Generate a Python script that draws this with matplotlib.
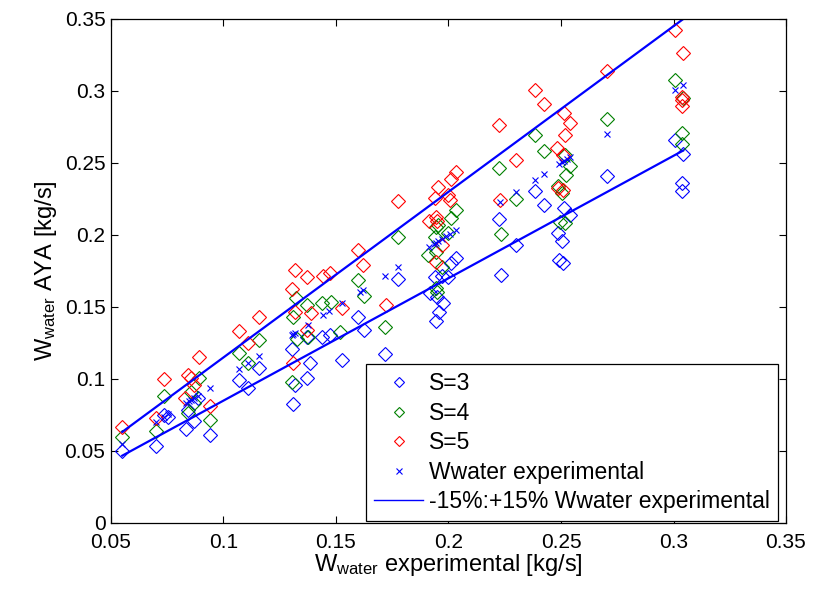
import numpy as np
import matplotlib.pyplot as plt
from matplotlib.ticker import FuncFormatter, MultipleLocator

plt.rcParams['font.family'] = ['Liberation Sans', 'DejaVu Sans']
plt.rcParams['mathtext.fontset'] = 'custom'
plt.rcParams['mathtext.rm'] = 'Liberation Sans'
plt.rcParams['mathtext.it'] = 'Liberation Sans'

# experimental water flow (plotted against itself as crosses)
w_exp = [0.055, 0.070, 0.0737, 0.0755, 0.0835, 0.0845, 0.0855, 0.087, 0.0885, 0.094,
         0.107, 0.111, 0.116, 0.1303, 0.131, 0.1318, 0.1377, 0.1444, 0.147, 0.1525,
         0.1607, 0.162, 0.1718, 0.1777, 0.1915, 0.1935, 0.1945, 0.1955, 0.197, 0.199,
         0.2007, 0.2033, 0.2229, 0.230, 0.2384, 0.2426, 0.249, 0.2505, 0.2515, 0.2525,
         0.254, 0.2703, 0.3007, 0.3043]

# S=3 predictions
s3_x = [0.055, 0.070, 0.0737, 0.0755, 0.0835, 0.087, 0.094, 0.0844, 0.0885, 0.107,
        0.111, 0.116, 0.1303, 0.131, 0.1318, 0.137, 0.1384, 0.137, 0.1436, 0.1473,
        0.1525, 0.160, 0.1626, 0.1718, 0.1777, 0.1918, 0.1947, 0.1944, 0.196, 0.1977,
        0.194, 0.197, 0.200, 0.201, 0.2033, 0.2226, 0.2233, 0.230, 0.2384, 0.2426,
        0.2513, 0.254, 0.2488, 0.2503, 0.2492, 0.251, 0.2703, 0.3007, 0.3043, 0.304, 0.304]
s3_y = [0.0498, 0.0537, 0.075, 0.0735, 0.065, 0.071, 0.061, 0.0785, 0.0866, 0.0995,
        0.0935, 0.1074, 0.1206, 0.0826, 0.0958, 0.129, 0.111, 0.101, 0.1294, 0.1306,
        0.1132, 0.1433, 0.134, 0.1174, 0.1692, 0.1595, 0.157, 0.1405, 0.1467, 0.1526,
        0.171, 0.1715, 0.171, 0.1808, 0.1842, 0.2109, 0.1722, 0.193, 0.2308, 0.2208,
        0.2185, 0.2139, 0.2012, 0.196, 0.1826, 0.1808, 0.241, 0.266, 0.256, 0.2363, 0.2306]

# S=4 predictions
s4_x = [0.055, 0.070, 0.0737, 0.0844, 0.0855, 0.087, 0.0889, 0.094, 0.107, 0.111,
        0.116, 0.1303, 0.1307, 0.1322, 0.1325, 0.137, 0.1377, 0.144, 0.148, 0.152,
        0.160, 0.1626, 0.172, 0.1777, 0.191, 0.1944, 0.194, 0.1944, 0.1955, 0.197,
        0.1944, 0.1947, 0.200, 0.201, 0.2033, 0.2226, 0.2233, 0.230, 0.2384, 0.2426,
        0.2485, 0.2503, 0.2518, 0.254, 0.2522, 0.2496, 0.2518, 0.2703, 0.3007, 0.3043,
        0.304, 0.304]
s4_y = [0.060, 0.0637, 0.0885, 0.0765, 0.0912, 0.0836, 0.1005, 0.0715, 0.118, 0.111,
        0.127, 0.098, 0.1428, 0.156, 0.128, 0.1514, 0.1294, 0.1526, 0.1537, 0.1328,
        0.1688, 0.1576, 0.1359, 0.1988, 0.186, 0.1884, 0.1988, 0.2058, 0.207, 0.1776,
        0.163, 0.1606, 0.2012, 0.2116, 0.2174, 0.2463, 0.2005, 0.2247, 0.2694, 0.2583,
        0.234, 0.229, 0.2556, 0.248, 0.2417, 0.2093, 0.2081, 0.2803, 0.3076, 0.2949,
        0.2706, 0.2632]

# S=5 predictions
s5_x = [0.055, 0.070, 0.0737, 0.0844, 0.0855, 0.083, 0.087, 0.0889, 0.094, 0.107,
        0.111, 0.116, 0.1303, 0.131, 0.1318, 0.1318, 0.137, 0.1388, 0.137, 0.1444,
        0.1473, 0.1525, 0.160, 0.162, 0.1722, 0.1777, 0.1915, 0.1944, 0.1947, 0.194,
        0.1955, 0.200, 0.2007, 0.201, 0.2033, 0.197, 0.1944, 0.2226, 0.2229, 0.230,
        0.2384, 0.2426, 0.2513, 0.254, 0.2519, 0.2484, 0.2507, 0.2488, 0.251, 0.2703,
        0.3007, 0.3043, 0.3036, 0.304, 0.304]
s5_y = [0.0665, 0.0729, 0.1002, 0.1028, 0.101, 0.0866, 0.0958, 0.115, 0.0815, 0.1333,
        0.1248, 0.1433, 0.1623, 0.111, 0.1757, 0.1467, 0.1706, 0.1456, 0.134, 0.1715,
        0.1738, 0.149, 0.1896, 0.179, 0.1514, 0.2238, 0.21, 0.2127, 0.21, 0.2255,
        0.2331, 0.2278, 0.2243, 0.2387, 0.244, 0.193, 0.1815, 0.2764, 0.2243, 0.2521,
        0.3007, 0.2907, 0.2845, 0.2776, 0.2694, 0.2602, 0.2556, 0.2324, 0.2313, 0.314,
        0.3424, 0.3266, 0.296, 0.2896, 0.2938]

fig = plt.figure(figsize=(8.16, 5.96), dpi=100)
ax = fig.add_axes([111 / 816, 73 / 596, 675 / 816, 504 / 596])

mk = dict(marker='D', ms=7, mfc='none', mew=0.8, ls='none')
ax.plot(s3_x, s3_y, mec='#0000ff', label='S=3', **mk)
ax.plot(s4_x, s4_y, mec='#008000', label='S=4', **mk)
ax.plot(s5_x, s5_y, mec='#ff0000', label='S=5', **mk)
ax.plot(w_exp, w_exp, 'x', color='#0000ff', ms=5, mew=0.8, label='Wwater experimental')

# +/-15% band around the experimental values
xs = np.sort(np.array(w_exp))
ax.plot(xs, 0.85 * xs, '-', color='#0000ff', lw=1.6, label='-15%:+15% Wwater experimental')
ax.plot(xs, 1.15 * xs, '-', color='#0000ff', lw=1.6)

ax.set_xlim(0.05, 0.35)
ax.set_ylim(0, 0.35)
ax.xaxis.set_major_locator(MultipleLocator(0.05))
ax.yaxis.set_major_locator(MultipleLocator(0.05))
fmt = FuncFormatter(lambda v, p: '%g' % round(v, 3))
ax.xaxis.set_major_formatter(fmt)
ax.yaxis.set_major_formatter(fmt)
ax.tick_params(direction='in', top=True, right=True, length=5, width=0.8, labelsize=15)
ax.tick_params(axis='x', pad=7)
ax.tick_params(axis='y', pad=4)
for s in ax.spines.values():
    s.set_linewidth(0.9)

ax.set_xlabel(r'W$_{\mathrm{water}}$ experimental [kg/s]', fontsize=17, labelpad=0)
ax.set_ylabel(r'W$_{\mathrm{water}}$ AYA [kg/s]', fontsize=17, labelpad=4)

leg = ax.legend(loc='lower right', bbox_to_anchor=(0.988, 0.004), borderaxespad=0,
                fancybox=False, framealpha=1, edgecolor='black',
                handlelength=2.1, handletextpad=0.28, labelspacing=0.28, borderpad=0.35,
                prop={'family': 'Liberation Sans', 'size': 16.5})
leg.get_frame().set_linewidth(0.9)
leg.legend_handles[0].set_markersize(5)
leg.legend_handles[1].set_markersize(5)
leg.legend_handles[2].set_markersize(5)
leg.legend_handles[3].set_markersize(4)
leg.legend_handles[4].set_linewidth(1)

fig.savefig('out.png', dpi=100)
